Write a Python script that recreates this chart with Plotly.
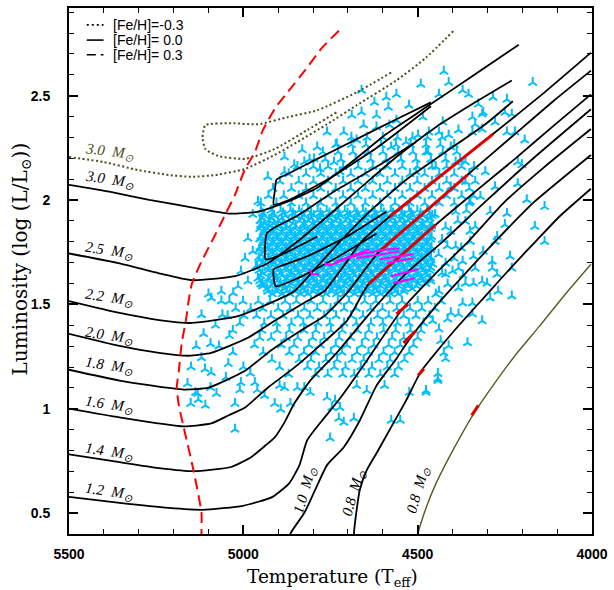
import plotly.graph_objects as go

# ---------------- Evolutionary tracks, [Fe/H] = 0.0 (solid black) ----------------
trk08_teff = [4686, 4683, 4675, 4666, 4646, 4618, 4570, 4533, 4491, 4462, 4391, 4306, 4221, 4162, 4094, 4003]
trk08_logl = [0.278, 0.401, 0.516, 0.611, 0.706, 0.787, 0.930, 1.040, 1.178, 1.240, 1.382, 1.540, 1.697, 1.801, 1.920, 2.054]
trk10_teff = [4876, 4865, 4825, 4794, 4760, 4712, 4666, 4618, 4561, 4525, 4448, 4363, 4278, 4165, 4003]
trk10_logl = [0.278, 0.401, 0.501, 0.611, 0.730, 0.816, 0.944, 1.111, 1.240, 1.330, 1.492, 1.649, 1.801, 1.992, 2.216]
trk12_teff = [5500, 5355, 5214, 5117, 5001, 4916, 4868, 4839, 4817, 4774, 4723, 4646, 4544, 4448, 4355, 4250, 4136, 4003]
trk12_logl = [0.578, 0.549, 0.525, 0.516, 0.535, 0.578, 0.644, 0.730, 0.849, 0.944, 1.049, 1.230, 1.478, 1.649, 1.801, 1.992, 2.159, 2.340]
trk14_teff = [5500, 5355, 5242, 5143, 5035, 4978, 4936, 4910, 4882, 4854, 4808, 4732, 4632, 4533, 4428, 4306, 4164, 4003]
trk14_logl = [0.782, 0.744, 0.716, 0.701, 0.721, 0.768, 0.825, 0.863, 0.935, 1.025, 1.135, 1.268, 1.468, 1.649, 1.801, 1.992, 2.206, 2.435]
trk16_teff = [5500, 5355, 5171, 5092, 5043, 4995, 4930, 4854, 4788, 4703, 4641, 4533, 4448, 4335, 4221, 4108, 4003]
trk16_logl = [1.001, 0.959, 0.916, 0.930, 0.968, 1.006, 1.101, 1.197, 1.292, 1.421, 1.597, 1.754, 1.882, 2.040, 2.197, 2.359, 2.506]
trk18_teff = [5500, 5355, 5171, 5100, 4995, 4922, 4837, 4768, 4703, 4610, 4448, 4357, 4221, 4108, 4003]
trk18_logl = [1.187, 1.135, 1.092, 1.101, 1.182, 1.278, 1.373, 1.444, 1.554, 1.754, 1.987, 2.121, 2.316, 2.478, 2.620]
trk20_teff = [5500, 5355, 5242, 5157, 5092, 4987, 4902, 4817, 4768, 4717, 4661, 4581, 4448, 4284, 4136, 4003]
trk20_logl = [1.359, 1.301, 1.268, 1.254, 1.268, 1.340, 1.430, 1.516, 1.563, 1.673, 1.801, 1.920, 2.097, 2.316, 2.516, 2.706]
trk22_teff = [5500, 5355, 5242, 5148, 5015, 4930, 4854, 4788, 4717, 4632, 4533, 4420, 4306, 4227]
trk22_logl = [1.516, 1.459, 1.425, 1.411, 1.444, 1.501, 1.563, 1.682, 1.811, 1.954, 2.097, 2.230, 2.363, 2.473]
trk25_teff = [5500, 5355, 5242, 5148, 5024, 4930, 4845, 4760, 4661, 4561, 4448, 4335, 4230]
trk25_logl = [1.744, 1.697, 1.649, 1.616, 1.635, 1.697, 1.801, 1.920, 2.063, 2.206, 2.349, 2.468, 2.573]
trk30_teff = [5500, 5384, 5270, 5129, 5043, 4958, 4873, 4788, 4689, 4590, 4476, 4349, 4210]
trk30_logl = [2.073, 2.040, 2.001, 1.959, 1.935, 1.944, 1.992, 2.059, 2.182, 2.316, 2.444, 2.587, 2.744]

# blue loops (core He burning) of the massive tracks
loop30_teff = [4462, 4561, 4675, 4788, 4873, 4905, 4910, 4913, 4873, 4760, 4618, 4462]
loop30_logl = [2.468, 2.387, 2.292, 2.197, 2.125, 2.097, 2.040, 1.978, 1.997, 2.097, 2.249, 2.449]
loop25_teff = [4505, 4618, 4732, 4845, 4916, 4933, 4936, 4888, 4788]
loop25_logl = [2.278, 2.159, 2.049, 1.925, 1.863, 1.840, 1.716, 1.740, 1.825]
loop22_teff = [4590, 4703, 4817, 4888, 4913, 4907, 4845, 4732, 4618]
loop22_logl = [1.944, 1.825, 1.730, 1.687, 1.668, 1.587, 1.625, 1.725, 1.840]

# ---------------- [Fe/H] = -0.3, 3.0 Msun (dotted olive) ----------------
fehm_teff = [5500, 5400, 5303, 5214, 5148, 5080, 4995, 4910, 4845, 4760, 4675, 4561, 4476, 4397]
fehm_logl = [2.206, 2.182, 2.144, 2.120, 2.111, 2.120, 2.149, 2.216, 2.278, 2.363, 2.454, 2.573, 2.682, 2.811]
fehm_loop_teff = [4576, 4675, 4788, 4873, 4958, 5035, 5109, 5117, 5109, 5072, 4995, 4910, 4817, 4732]
fehm_loop_logl = [2.611, 2.516, 2.430, 2.397, 2.363, 2.368, 2.359, 2.301, 2.244, 2.211, 2.197, 2.244, 2.335, 2.421]

# ---------------- [Fe/H] = +0.3, 0.8 Msun (thin olive) ----------------
fehp_teff = [4502, 4499, 4476, 4448, 4414, 4377, 4335, 4278, 4221, 4150, 4079, 4003]
fehp_logl = [0.349, 0.401, 0.525, 0.640, 0.754, 0.868, 0.987, 1.125, 1.254, 1.397, 1.544, 1.692]

# ---------------- red dashed boundary ----------------
edge_teff = [4726, 4774, 4817, 4873, 4907, 4944, 4967, 4995, 5024, 5052, 5086, 5120, 5148, 5157, 5165,
             5177, 5185, 5191, 5185, 5171, 5143, 5120, 5120, 5118]
edge_logl = [2.811, 2.730, 2.635, 2.516, 2.444, 2.335, 2.230, 2.149, 2.025, 1.930, 1.816, 1.706, 1.597, 1.516, 1.421,
             1.311, 1.182, 1.101, 1.016, 0.911, 0.706, 0.501, 0.401, 0.300]

# ---------------- highlighted red pieces of tracks ----------------
red_teff = [4581, 4448, 4284, None, 4610, 4448, 4357, None, 4641, 4533, 4448, None,
            4561, 4527, None, 4541, 4505, None, 4499, 4482, None, 4345, 4326]
red_logl = [1.920, 2.097, 2.316, None, 1.754, 1.987, 2.121, None, 1.597, 1.754, 1.882, None,
            1.454, 1.501, None, 1.316, 1.373, None, 1.159, 1.192, None, 0.968, 1.016]

# ---------------- magenta strands ----------------
mag_teff = [4811, 4803, 4783, None, 4768, 4751, 4703, 4655, 4590, 4553, None, 4732, 4638, None,
            4675, 4604, 4553, None, 4610, 4513, None, 4590, 4513, None, 4576, 4499, None, 4570, 4510]
mag_logl = [1.668, 1.644, 1.644, None, 1.697, 1.687, 1.721, 1.744, 1.763, 1.768, None, 1.706, 1.763, None,
            1.721, 1.740, 1.754, None, 1.716, 1.740, None, 1.697, 1.721, None, 1.635, 1.668, None, 1.601, 1.625]

# ---------------- observed stars ----------------
core_rows = [
    (1.550, [4917, 4889, 4866, 4836, 4815, 4785, 4763, 4733, 4711, 4681, 4659, 4629, 4607, 4577, 4556]),
    (1.5625, [4930, 4903, 4877, 4851, 4825, 4799, 4773, 4747, 4721, 4695, 4669, 4643, 4617, 4591, 4565, 4539]),
    (1.575, [4932, 4902, 4880, 4850, 4828, 4798, 4776, 4746, 4724, 4694, 4672, 4642, 4620, 4590, 4568, 4538, 4516]),
    (1.5875, [4945, 4918, 4892, 4866, 4840, 4814, 4788, 4762, 4736, 4710, 4684, 4658, 4632, 4606, 4580, 4554, 4528, 4503]),
    (1.600, [4945, 4915, 4893, 4863, 4841, 4811, 4789, 4759, 4737, 4707, 4685, 4655, 4633, 4603, 4581, 4551, 4529, 4499, 4477]),
    (1.6125, [4953, 4929, 4903, 4877, 4851, 4825, 4799, 4773, 4747, 4721, 4695, 4669, 4643, 4617, 4591, 4565, 4539, 4513, 4487]),
    (1.625, [4958, 4928, 4906, 4876, 4854, 4824, 4802, 4772, 4750, 4720, 4698, 4668, 4646, 4616, 4594, 4564, 4542, 4512, 4490, 4464]),
    (1.6375, [4950, 4916, 4890, 4864, 4838, 4812, 4786, 4760, 4734, 4708, 4682, 4656, 4630, 4604, 4578, 4552, 4526, 4500, 4474]),
    (1.650, [4945, 4917, 4893, 4863, 4841, 4813, 4789, 4759, 4737, 4709, 4685, 4655, 4633, 4605, 4581, 4551, 4529, 4501, 4477]),
    (1.6625, [4955, 4929, 4903, 4877, 4851, 4825, 4799, 4773, 4747, 4721, 4695, 4669, 4643, 4617, 4591, 4565, 4539, 4513, 4487, 4465]),
    (1.675, [4960, 4930, 4906, 4878, 4854, 4824, 4802, 4774, 4750, 4720, 4698, 4670, 4646, 4616, 4594, 4566, 4542, 4512, 4490, 4462]),
    (1.6875, [4948, 4916, 4890, 4864, 4838, 4812, 4786, 4760, 4734, 4708, 4682, 4656, 4630, 4604, 4578, 4552, 4526, 4500, 4474]),
    (1.700, [4943, 4915, 4891, 4863, 4839, 4811, 4787, 4759, 4735, 4707, 4683, 4655, 4631, 4603, 4579, 4551, 4527, 4499, 4475]),
    (1.7125, [4955, 4929, 4903, 4877, 4851, 4825, 4799, 4773, 4747, 4721, 4695, 4669, 4643, 4617, 4591, 4565, 4539, 4513, 4487, 4462]),
    (1.725, [4956, 4928, 4904, 4876, 4852, 4824, 4800, 4772, 4748, 4720, 4696, 4668, 4644, 4616, 4592, 4564, 4540, 4512, 4488, 4462]),
    (1.7375, [4948, 4916, 4890, 4864, 4838, 4812, 4786, 4760, 4734, 4708, 4682, 4656, 4630, 4604, 4578, 4552, 4526, 4500, 4474]),
    (1.750, [4941, 4917, 4889, 4865, 4837, 4813, 4785, 4761, 4733, 4709, 4681, 4657, 4629, 4605, 4577, 4553, 4525, 4501, 4473]),
    (1.7625, [4955, 4929, 4903, 4877, 4851, 4825, 4799, 4773, 4747, 4721, 4695, 4669, 4643, 4617, 4591, 4565, 4539, 4513, 4487, 4462]),
    (1.775, [4952, 4930, 4902, 4878, 4850, 4826, 4798, 4774, 4746, 4722, 4694, 4670, 4642, 4618, 4590, 4566, 4538, 4514, 4486, 4460]),
    (1.7875, [4945, 4916, 4890, 4864, 4838, 4812, 4786, 4760, 4734, 4708, 4682, 4656, 4630, 4604, 4578, 4552, 4526, 4500, 4474]),
    (1.800, [4940, 4915, 4891, 4863, 4839, 4811, 4787, 4759, 4735, 4707, 4683, 4655, 4631, 4603, 4579, 4551, 4527, 4499, 4473]),
    (1.8125, [4953, 4929, 4903, 4877, 4851, 4825, 4799, 4773, 4747, 4721, 4695, 4669, 4643, 4617, 4591, 4565, 4539, 4513, 4487, 4462]),
    (1.825, [4950, 4928, 4904, 4876, 4852, 4824, 4800, 4772, 4748, 4720, 4696, 4668, 4644, 4616, 4592, 4564, 4540, 4512, 4488, 4460]),
    (1.8375, [4942, 4916, 4890, 4864, 4838, 4812, 4786, 4760, 4734, 4708, 4682, 4656, 4630, 4604, 4578, 4552, 4526, 4500, 4474]),
    (1.850, [4938, 4915, 4889, 4865, 4837, 4813, 4785, 4761, 4733, 4709, 4681, 4657, 4629, 4605, 4577, 4553, 4525, 4501, 4473]),
    (1.8625, [4953, 4929, 4903, 4877, 4851, 4825, 4799, 4773, 4747, 4721, 4695, 4669, 4643, 4617, 4591, 4565, 4539, 4513, 4487, 4462]),
    (1.875, [4950, 4925, 4900, 4876, 4850, 4826, 4798, 4774, 4746, 4722, 4694, 4670, 4642, 4618, 4590, 4566, 4538, 4514, 4486, 4460]),
    (1.8875, [4940, 4913, 4887, 4857, 4826, 4800, 4773, 4747, 4721, 4695, 4669, 4643, 4617, 4591, 4565, 4539, 4513, 4487, 4460]),
    (1.900, [4952, 4926, 4900, 4870, 4839, 4813, 4787, 4759, 4735, 4707, 4683, 4655, 4631, 4603, 4579, 4551, 4527, 4499, 4473]),
    (1.9125, [4946, 4919, 4890, 4860, 4832, 4806, 4780, 4752, 4728, 4700, 4676, 4648, 4624, 4596, 4572, 4544, 4520, 4492, 4465]),
    (1.925, [4940, 4912, 4880, 4852, 4826, 4798, 4774, 4746, 4722, 4694, 4670, 4642, 4618, 4590, 4566, 4538, 4514, 4486, 4458]),
    (1.9375, [4945, 4916, 4886, 4858, 4833, 4806, 4779, 4753, 4727, 4701, 4675, 4649, 4623, 4597, 4571, 4545, 4519, 4492, 4466]),
    (1.950, [4950, 4921, 4893, 4865, 4840, 4815, 4787, 4761, 4733, 4709, 4681, 4657, 4629, 4605, 4577, 4553, 4525, 4501, 4473]),
]
band_rows = [
    (1.985, [4950, 4905, 4862, 4820, 4778, 4735, 4692, 4650, 4608, 4565, 4522, 4480, 4438, 4395, 4352]),
    (2.020, [4928, 4884, 4841, 4799, 4757, 4714, 4671, 4629, 4587, 4544, 4501, 4459, 4417, 4374, 4340]),
    (2.055, [4915, 4862, 4820, 4778, 4735, 4692, 4650, 4608, 4565, 4522, 4480, 4438, 4395, 4352]),
    (2.090, [4895, 4841, 4799, 4757, 4714, 4671, 4629, 4587, 4544, 4501, 4459, 4417, 4374, 4335]),
    (2.125, [4870, 4820, 4778, 4735, 4692, 4650, 4608, 4565, 4522, 4480, 4438, 4395, 4352]),
    (2.160, [4845, 4799, 4757, 4714, 4671, 4629, 4587, 4544, 4501, 4459, 4417, 4374, 4338]),
    (2.195, [4810, 4765, 4720, 4678, 4635, 4590, 4548, 4505, 4462, 4420, 4378]),
    (2.230, [4772, 4728, 4686, 4642, 4600, 4556, 4514, 4470, 4428, 4388]),
    (2.265, [4735, 4690, 4648, 4605, 4562, 4520, 4476, 4435, 4395]),
    (2.300, [4690, 4645, 4600, 4558, 4515, 4472, 4430]),
]
lower_rows = [
    (1.515, [5040, 5001, 4957, 4923, 4880, 4848, 4806, 4771, 4729, 4697, 4652, 4620, 4579, 4545, 4500, 4470, 4432]),
    (1.480, [5022, 4979, 4944, 4900, 4866, 4825, 4788, 4750, 4711, 4676, 4635, 4601, 4560, 4522, 4488, 4450]),
    (1.445, [5045, 4998, 4962, 4921, 4886, 4843, 4809, 4768, 4734, 4691, 4657, 4615, 4583, 4540, 4505, 4466]),
    (1.410, [5010, 4940, 4905, 4862, 4828, 4786, 4752, 4711, 4676, 4634, 4600, 4558, 4525, 4483]),
    (1.375, [5030, 4947, 4903, 4868, 4826, 4792, 4749, 4716, 4672, 4640, 4598, 4563, 4521, 4490]),
    (1.340, [4953, 4920, 4877, 4844, 4801, 4768, 4725, 4692, 4650, 4617, 4573, 4540, 4500]),
    (1.305, [4968, 4891, 4854, 4812, 4779, 4735, 4703, 4660, 4626, 4583, 4550, 4512]),
    (1.270, [4943, 4868, 4826, 4793, 4749, 4717, 4674, 4641, 4598, 4566, 4524]),
    (1.235, [4918, 4840, 4806, 4763, 4731, 4688, 4655, 4611, 4579, 4538]),
    (1.200, [4896, 4816, 4783, 4739, 4707, 4663, 4631, 4587, 4555]),
    (1.165, [4870, 4793, 4758, 4715, 4682, 4640, 4607, 4566]),
]
field_stars = [
    (5100, 1.549), (5063, 1.516), (5114, 1.359), (5094, 1.311), (5120, 1.244), (5043, 1.216), (5092, 1.173),
    (5137, 1.078), (5151, 1.025), (5109, 1.016), (5024, 1.025), (5024, 0.901), (5131, 1.073), (5129, 1.044),
    (5094, 1.101), (5077, 1.073), (5007, 1.125), (4967, 1.125), (4939, 1.063), (4910, 1.025), (4893, 0.997),
    (4865, 1.025), (4896, 1.111), (4882, 1.101), (4845, 1.101), (4825, 1.101), (4808, 1.078), (4760, 1.054),
    (4737, 1.040), (4746, 1.006), (4723, 1.006), (4726, 0.954), (4712, 0.935), (4683, 0.954), (4751, 0.859),
    (4646, 1.087), (4675, 1.111), (4595, 1.111), (4576, 0.944), (4550, 0.944), (4524, 1.078), (4476, 1.087),
    (4442, 1.135), (5060, 1.450), (5080, 1.400), (5040, 1.350), (5070, 1.300), (5030, 1.270), (5000, 1.200),
    (5050, 1.150), (5010, 1.090), (4980, 1.170), (4960, 1.090), (5120, 1.450), (5135, 1.300), (5150, 1.200),
    (5160, 1.120), (5110, 1.190),
    (4457, 1.692), (4420, 1.697), (4371, 1.706), (4335, 1.673), (4286, 1.673), (4383, 1.673), (4272, 1.644),
    (4420, 1.644), (4462, 1.611), (4414, 1.597), (4363, 1.601), (4340, 1.601), (4315, 1.611), (4301, 1.601),
    (4269, 1.563), (4230, 1.540), (4383, 1.578), (4448, 1.549), (4439, 1.563), (4371, 1.506), (4343, 1.506),
    (4292, 1.530), (4405, 1.459), (4383, 1.454), (4343, 1.454), (4457, 1.421), (4414, 1.430), (4315, 1.421),
    (4439, 1.382), (4357, 1.316), (4434, 1.325), (4411, 1.301), (4425, 1.268), (4420, 1.240), (4442, 1.168),
    (4442, 1.144), (4476, 1.078),
    (4425, 2.616), (4411, 2.563), (4439, 2.506), (4170, 2.563), (4354, 2.506), (4371, 2.525), (4244, 2.482),
    (4250, 2.420), (4312, 2.420), (4326, 2.459), (4343, 2.397), (4428, 2.373), (4278, 2.373), (4244, 2.325),
    (4221, 2.325), (4193, 2.287), (4383, 2.335), (4343, 2.325), (4411, 2.311), (4468, 2.325), (4213, 2.182),
    (4201, 2.168), (4213, 2.078), (4187, 2.001), (4136, 1.968), (4164, 1.873), (4136, 1.801), (4244, 1.935),
    (4235, 1.730), (4286, 1.706), (4230, 1.673), (4272, 1.825), (4250, 1.882),
    (4491, 2.554), (4561, 2.506), (4590, 2.492), (4525, 2.454), (4315, 2.411), (4284, 2.492), (4230, 2.411),
    (4584, 2.444), (4618, 2.406), (4661, 2.421), (4689, 2.406), (4712, 2.325), (4655, 2.359), (4618, 2.349),
    (4581, 2.359), (4561, 2.382), (4485, 2.397), (4499, 2.311), (4439, 2.325), (4335, 2.363), (4315, 2.339),
    (4661, 2.525), (4624, 2.468), (4760, 2.325), (4788, 2.254), (4831, 2.240), (4732, 2.268), (4675, 2.287),
    (4533, 2.278), (4576, 2.254), (4476, 2.230), (4405, 2.254), (4363, 2.182), (4306, 2.135), (4278, 2.063),
    (4320, 2.016), (4292, 1.944), (4335, 1.873), (4278, 1.801), (4349, 1.801), (4312, 1.754), (4391, 2.182),
    (4448, 2.159), (4505, 2.135), (4363, 2.087), (4405, 2.063), (4349, 1.992), (4391, 1.944), (4363, 1.897),
    (4405, 1.849), (4391, 1.778), (4340, 1.730), (4440, 1.740), (4415, 1.780), (4395, 1.720), (4430, 1.810),
    (4375, 1.770), (4350, 1.850), (4420, 1.870), (4385, 1.900), (4450, 1.930), (4360, 1.950), (4400, 1.660),
    (4430, 1.650), (4370, 1.640),
    (4882, 2.206), (4854, 2.168), (4930, 2.111), (4882, 2.135), (4825, 2.182), (4797, 2.197), (4780, 2.149),
    (4740, 2.182), (4723, 2.135), (4973, 1.930), (4958, 1.992), (4950, 1.882), (4987, 1.816), (4973, 1.754),
    (4995, 1.721), (4964, 1.682), (5007, 1.659), (4987, 1.611), (5015, 1.587), (5029, 1.554), (5063, 1.563),
    (5092, 1.530), (4950, 1.597),
]

# mass labels
solid_labels = ["3.0", "2.5", "2.2", "2.0", "1.8", "1.6", "1.4", "1.2"]
solid_label_logl = [2.097, 1.754, 1.530, 1.349, 1.206, 1.016, 0.792, 0.602]
rot_labels = ["1.0", "0.8", "0.8"]
rot_label_teff = [4822, 4683, 4497]
rot_label_logl = [0.611, 0.597, 0.609]

x_ticks = [5500, 5000, 4500, 4000]
y_ticks = [0.5, 1, 1.5, 2, 2.5]
y_ticktext = ["0.5", "1", "1.5", "2", "2.5"]

# ---------------- build figure ----------------
CYAN = "#00bfff"
OLIVE = "#4c4c1a"

star_teff, star_logl = [], []
for rows in (core_rows, band_rows, lower_rows):
    for lv, ts in rows:
        star_teff.extend(ts)
        star_logl.extend([lv] * len(ts))
for t, l in field_stars:
    star_teff.append(t)
    star_logl.append(l)

fig = go.Figure()
fig.add_trace(go.Scatter(
    x=star_teff, y=star_logl, mode="markers", hoverinfo="skip",
    marker=dict(symbol="y-up", size=7, color=CYAN, line=dict(color=CYAN, width=2))))

for tx, ly in [(trk08_teff, trk08_logl), (trk10_teff, trk10_logl), (trk12_teff, trk12_logl),
               (trk14_teff, trk14_logl), (trk16_teff, trk16_logl), (trk18_teff, trk18_logl),
               (trk20_teff, trk20_logl), (trk22_teff, trk22_logl), (trk25_teff, trk25_logl),
               (trk30_teff, trk30_logl), (loop30_teff, loop30_logl), (loop25_teff, loop25_logl),
               (loop22_teff, loop22_logl)]:
    fig.add_trace(go.Scatter(x=tx, y=ly, mode="lines", hoverinfo="skip",
                             line=dict(color="black", width=1.8, shape="spline", smoothing=0.5)))

fig.add_trace(go.Scatter(x=fehm_teff, y=fehm_logl, mode="lines", hoverinfo="skip",
                         line=dict(color=OLIVE, width=2, dash="2px,2.5px", shape="spline", smoothing=0.5)))
fig.add_trace(go.Scatter(x=fehm_loop_teff, y=fehm_loop_logl, mode="lines", hoverinfo="skip",
                         line=dict(color=OLIVE, width=2, dash="2px,2.5px", shape="spline", smoothing=0.5)))
fig.add_trace(go.Scatter(x=fehp_teff, y=fehp_logl, mode="lines", hoverinfo="skip",
                         line=dict(color="#5a5a24", width=1.4, shape="spline", smoothing=0.5)))
fig.add_trace(go.Scatter(x=edge_teff, y=edge_logl, mode="lines", hoverinfo="skip",
                         line=dict(color="#ff0000", width=2, dash="11px,6px", shape="spline", smoothing=0.5)))
fig.add_trace(go.Scatter(x=red_teff, y=red_logl, mode="lines", hoverinfo="skip", connectgaps=False,
                         line=dict(color="#e00000", width=3)))
fig.add_trace(go.Scatter(x=mag_teff, y=mag_logl, mode="lines", hoverinfo="skip", connectgaps=False,
                         line=dict(color="#ff00ff", width=2)))

annotations = []
LABEL_FONT = dict(family="Liberation Serif", size=15, color="black")
annotations.append(dict(x=5385, y=2.230, xref="x", yref="y", showarrow=False, textangle=7,
                        text="<i>3.0  M<sub>⊙</sub></i>", font=dict(LABEL_FONT, color=OLIVE)))
for lab, ly in zip(solid_labels, solid_label_logl):
    annotations.append(dict(x=5385, y=ly, xref="x", yref="y", showarrow=False, textangle=8,
                            text="<i>%s  M<sub>⊙</sub></i>" % lab, font=LABEL_FONT))
for lab, tx, ly in zip(rot_labels, rot_label_teff, rot_label_logl):
    annotations.append(dict(x=tx, y=ly, xref="x", yref="y", showarrow=False, textangle=-74,
                            text="<i>%s  M<sub>⊙</sub></i>" % lab, font=LABEL_FONT))

# legend (drawn by hand)
leg_y = [0.968, 0.939, 0.911]
leg_txt = ["[Fe/H]=-0.3", "[Fe/H]= 0.0", "[Fe/H]= 0.3"]
leg_dash = ["2px,3px", "solid", "9px,5px"]
shapes = []
for yy, tt, dd in zip(leg_y, leg_txt, leg_dash):
    shapes.append(dict(type="line", xref="paper", yref="paper", x0=0.034, x1=0.066, y0=yy, y1=yy,
                       line=dict(color="black", width=1.6, dash=dd)))
    annotations.append(dict(x=0.080, y=yy, xref="paper", yref="paper", showarrow=False, xanchor="left",
                            yanchor="middle", text=tt,
                            font=dict(family="Liberation Sans", size=14, color="black")))

annotations.append(dict(x=0.503, y=-0.083, xref="paper", yref="paper", showarrow=False,
                        yanchor="middle", text="Temperature (T<sub>eff</sub>)",
                        font=dict(family="DejaVu Serif", size=18.5, color="black")))
annotations.append(dict(x=-0.0926, y=0.523, xref="paper", yref="paper", showarrow=False,
                        textangle=-90, xanchor="center", yanchor="middle",
                        text="Luminosity (log (L/L<sub>⊙</sub>))",
                        font=dict(family="DejaVu Serif", size=20, color="black")))

fig.update_layout(
    width=614, height=590, margin=dict(l=69, r=16, t=6, b=56),
    paper_bgcolor="white", plot_bgcolor="white", showlegend=False,
    font=dict(family="Liberation Sans", color="black"),
    annotations=annotations, shapes=shapes,
)
tickfont = dict(family="Liberation Sans", size=14, color="black", weight="bold")
fig.update_xaxes(range=[5500, 4000], tickmode="array", tickvals=x_ticks,
                 ticks="inside", ticklen=9, tickwidth=1.5, tickcolor="black",
                 showline=True, linewidth=2, linecolor="black", mirror="allticks",
                 showgrid=False, zeroline=False, tickfont=tickfont, ticklabelstandoff=6,
                 minor=dict(ticks="inside", ticklen=5, tickwidth=1.2, tickcolor="black",
                            dtick=100, tick0=4000, showgrid=False))
fig.update_yaxes(range=[0.4, 2.92], tickmode="array", tickvals=y_ticks, ticktext=y_ticktext,
                 ticks="inside", ticklen=9, tickwidth=1.5, tickcolor="black",
                 showline=True, linewidth=2, linecolor="black", mirror="allticks",
                 showgrid=False, zeroline=False, tickfont=tickfont, ticklabelstandoff=14,
                 minor=dict(ticks="inside", ticklen=5, tickwidth=1.2, tickcolor="black",
                            dtick=0.1, tick0=0, showgrid=False))

fig.write_html("out.html")
